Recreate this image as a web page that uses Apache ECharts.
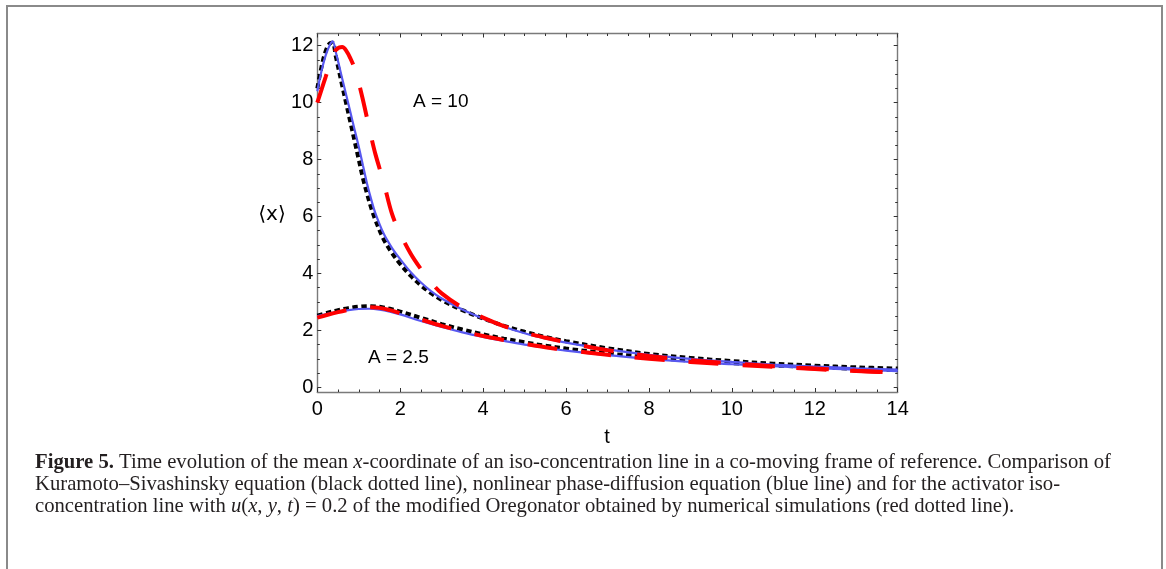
<!DOCTYPE html>
<html>
<head>
<meta charset="utf-8">
<script src="https://cdn.jsdelivr.net/npm/echarts@6/dist/echarts.min.js"></script>
<style>
html,body{margin:0;padding:0;background:#fff;}
#chart{width:1166px;height:569px;}
</style>
</head>
<body>
<div id="chart"></div>
<script>
// ---- data ----
const xTicks = [0, 2, 4, 6, 8, 10, 12, 14];
const yTicks = [0, 2, 4, 6, 8, 10, 12];

// A = 10 curves
const tUpper = [0, 0.1, 0.2, 0.3, 0.37, 0.45, 0.6, 0.7, 0.8, 0.9, 1.0, 1.1, 1.2, 1.3, 1.4, 1.6, 1.8, 2.0, 2.25, 2.5, 2.75, 3.0, 3.5, 4.0, 4.5, 5, 5.5, 6, 7, 8, 9, 10, 11, 12, 13, 14];
const phaseUpper = [10.4, 11.1, 11.65, 12.02, 12.15, 11.75, 10.85, 10.25, 9.65, 9.05, 8.45, 7.8, 7.15, 6.6, 6.12, 5.4, 4.9, 4.5, 4.05, 3.68, 3.37, 3.12, 2.73, 2.41, 2.13, 1.9, 1.72, 1.57, 1.33, 1.14, 1.0, 0.89, 0.8, 0.73, 0.67, 0.62];
const ksUpper = [10.5, 11.25, 11.8, 12.08, 12.1, 11.6, 10.6, 9.95, 9.3, 8.65, 8.0, 7.35, 6.8, 6.3, 5.88, 5.2, 4.72, 4.33, 3.92, 3.58, 3.3, 3.07, 2.71, 2.42, 2.16, 1.95, 1.77, 1.62, 1.37, 1.17, 1.03, 0.92, 0.83, 0.76, 0.7, 0.66];
const oregUpper = [10.0, 10.45, 10.9, 11.35, 11.6, 11.85, 11.95, 11.82, 11.55, 11.2, 10.7, 10.1, 9.45, 8.8, 8.2, 7.2, 6.1, 5.4, 4.7, 4.15, 3.68, 3.3, 2.8, 2.45, 2.15, 1.92, 1.74, 1.58, 1.3, 1.1, 0.95, 0.84, 0.74, 0.66, 0.58, 0.52];

// A = 2.5 curves
const tLower = [0, 0.25, 0.5, 0.75, 1.0, 1.25, 1.5, 1.75, 2.0, 2.5, 3.0, 3.5, 4.0, 4.5, 5, 5.5, 6, 7, 8, 9, 10, 11, 12, 13, 14];
const phaseLower = [2.5, 2.58, 2.65, 2.71, 2.75, 2.76, 2.73, 2.66, 2.56, 2.33, 2.12, 1.93, 1.77, 1.63, 1.5, 1.39, 1.29, 1.13, 1.0, 0.89, 0.81, 0.74, 0.68, 0.62, 0.57];
const ksLower = [2.52, 2.62, 2.71, 2.78, 2.83, 2.85, 2.83, 2.76, 2.66, 2.44, 2.22, 2.03, 1.86, 1.71, 1.58, 1.46, 1.36, 1.19, 1.05, 0.94, 0.85, 0.77, 0.71, 0.65, 0.6];
const oregLower = [2.45, 2.55, 2.64, 2.72, 2.79, 2.81, 2.79, 2.71, 2.6, 2.38, 2.16, 1.97, 1.8, 1.66, 1.53, 1.41, 1.31, 1.14, 1.0, 0.89, 0.8, 0.72, 0.64, 0.57, 0.51];

const labelA10 = 'A = 10';
const labelA25 = 'A = 2.5';
const xName = 't';
const yName = '\u27E8x\u27E9';

// ---- chart ----
const zip = (t, v) => t.map((x, i) => [x, v[i]]);
const chart = echarts.init(document.getElementById('chart'), null, {renderer: 'canvas'});

const FONT = '"Liberation Sans", Arial, Helvetica, sans-serif';
const SERIF = '"Liberation Serif", "Times New Roman", serif';
const CAP = 20.7;
const frameColor = '#7a7a7a';
const tickColor = '#333';

const L = 317.3, R = 1166 - 897.7;
const gridData = {left: L, right: R, top: 45.7, bottom: 569 - 387.3};
const gridFrame = {left: L, right: R, top: 33.5, bottom: 569 - 392};

const blue = '#5858f0', black = '#000', red = '#ff0000';
function line(name, t, v, color, width, dash) {
  return {
    name, type: 'line', xAxisIndex: 0, yAxisIndex: 0,
    data: zip(t, v), showSymbol: false, symbol: 'none', smooth: 0.35, clip: false,
    lineStyle: {color, width, type: dash || 'solid', cap: 'butt'},
    animation: false, silent: true
  };
}
const frameLine = {show: true, onZero: false, lineStyle: {color: frameColor, width: 1.4}};
const majorTick = {show: true, inside: true, length: 4, lineStyle: {color: tickColor, width: 1}};
const minorTick = {show: true, splitNumber: 4, length: 2.5, lineStyle: {color: tickColor, width: 1}};

const option = {
  backgroundColor: '#fff',
  animation: false,
  grid: [
    Object.assign({containLabel: false}, gridData),
    Object.assign({containLabel: false}, gridFrame)
  ],
  xAxis: [
    {gridIndex: 0, type: 'value', min: 0, max: 14, show: false},
    {gridIndex: 1, type: 'value', min: 0, max: 14, interval: 2, position: 'bottom',
      axisLine: frameLine, axisTick: majorTick, minorTick: minorTick,
      splitLine: {show: false},
      axisLabel: {show: true, margin: 7, color: '#000', fontSize: 20, fontFamily: FONT,
        formatter: v => xTicks.includes(v) ? String(v) : ''}
    },
    {gridIndex: 1, type: 'value', min: 0, max: 14, interval: 2, position: 'top',
      axisLine: frameLine, axisTick: majorTick, minorTick: minorTick,
      splitLine: {show: false}, axisLabel: {show: false}
    }
  ],
  yAxis: [
    {gridIndex: 0, type: 'value', min: 0, max: 12, interval: 2, position: 'left',
      axisLine: {show: false, onZero: false}, axisTick: majorTick, minorTick: minorTick,
      splitLine: {show: false},
      axisLabel: {show: true, margin: 4, color: '#000', fontSize: 20, fontFamily: FONT,
        formatter: v => yTicks.includes(v) ? String(v) : ''}
    },
    {gridIndex: 0, type: 'value', min: 0, max: 12, interval: 2, position: 'right',
      axisLine: {show: false, onZero: false}, axisTick: majorTick, minorTick: minorTick,
      splitLine: {show: false}, axisLabel: {show: false}
    },
    {gridIndex: 1, type: 'value', min: -0.17, max: 12.43, position: 'left',
      axisLine: frameLine, axisTick: {show: false}, splitLine: {show: false}, axisLabel: {show: false}
    },
    {gridIndex: 1, type: 'value', min: -0.17, max: 12.43, position: 'right',
      axisLine: frameLine, axisTick: {show: false}, splitLine: {show: false}, axisLabel: {show: false}
    }
  ],
  series: [
    line('KS A=10', tUpper, ksUpper, black, 4, [5.5, 3.5]),
    line('KS A=2.5', tLower, ksLower, black, 4, [5.5, 3.5]),
    line('phase A=10', tUpper, phaseUpper, blue, 2.2),
    line('phase A=2.5', tLower, phaseLower, blue, 2.2),
    line('Oregonator A=10', tUpper, oregUpper, red, 4, [30, 24]),
    line('Oregonator A=2.5', tLower, oregLower, red, 4, [30, 24])
  ],
  graphic: [
    {type: 'rect', shape: {x: 7, y: 6, width: 1155, height: 600},
      style: {fill: 'none', stroke: '#8a8a8a', lineWidth: 2}, silent: true, z: 100},
    {type: 'text', x: 272, y: 215,
      style: {text: yName, fontSize: 20, fontFamily: '"DejaVu Sans", ' + FONT, fill: '#000', align: 'center', verticalAlign: 'middle'}},
    {type: 'text', x: 607, y: 437,
      style: {text: xName, fontSize: 20, fontFamily: FONT, fill: '#000', align: 'center', verticalAlign: 'middle'}},
    {type: 'text', x: 413, y: 102,
      style: {text: labelA10, fontSize: 19, fontFamily: FONT, fill: '#000', align: 'left', verticalAlign: 'middle'}},
    {type: 'text', x: 368, y: 357.5,
      style: {text: labelA25, fontSize: 19, fontFamily: FONT, fill: '#000', align: 'left', verticalAlign: 'middle'}},
    {type: 'text', x: 35, y: 463,
      style: {
        text: '{b|Figure 5.} Time evolution of the mean {i|x}-coordinate of an iso-concentration line in a co-moving frame of reference. Comparison of',
        fontSize: CAP, fontFamily: SERIF, fill: '#231f20', verticalAlign: 'middle',
        rich: {b: {fontWeight: 'bold', fontSize: CAP, fontFamily: SERIF, fill: '#231f20'},
               i: {fontStyle: 'italic', fontSize: CAP, fontFamily: SERIF, fill: '#231f20'}}
      }},
    {type: 'text', x: 35, y: 485,
      style: {
        text: 'Kuramoto\u2013Sivashinsky equation (black dotted line), nonlinear phase-diffusion equation (blue line) and for the activator iso-',
        fontSize: CAP, fontFamily: SERIF, fill: '#231f20', verticalAlign: 'middle'
      }},
    {type: 'text', x: 35, y: 506.5,
      style: {
        text: 'concentration line with {i|u}({i|x}, {i|y}, {i|t}) = 0.2 of the modified Oregonator obtained by numerical simulations (red dotted line).',
        fontSize: CAP, fontFamily: SERIF, fill: '#231f20', verticalAlign: 'middle',
        rich: {i: {fontStyle: 'italic', fontSize: CAP, fontFamily: SERIF, fill: '#231f20'}}
      }}
  ]
};
chart.setOption(option);
</script>
</body>
</html>
